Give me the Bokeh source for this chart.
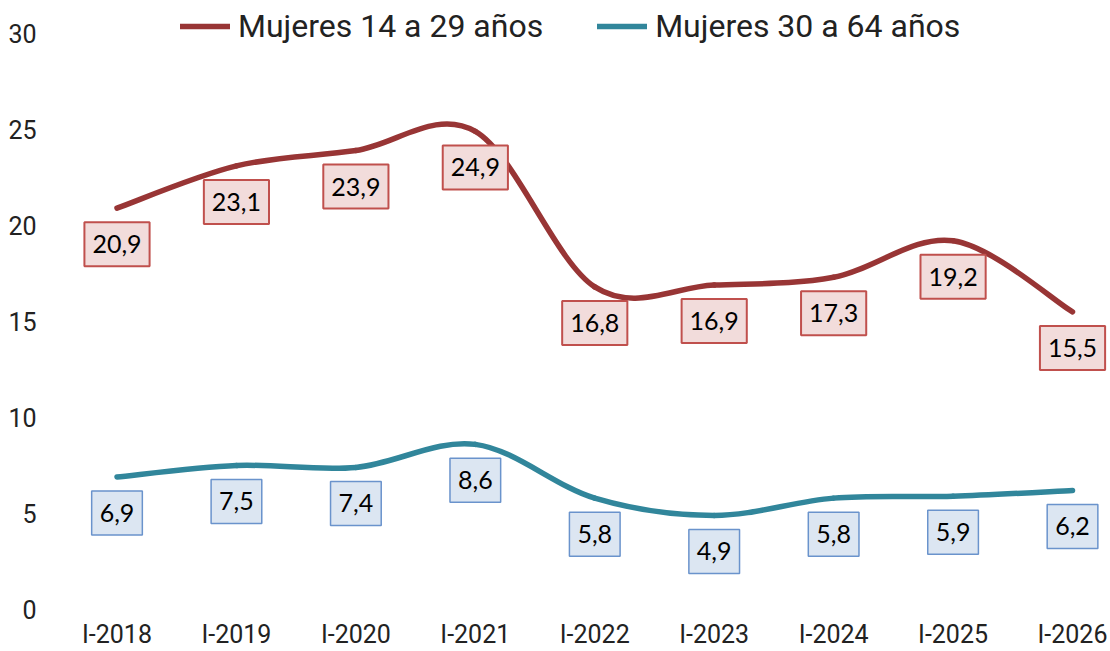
from bokeh.plotting import figure
from bokeh.models import (ColumnDataSource, Range1d, FixedTicker,
                          Legend, LegendItem)
from bokeh.core.properties import value
from bokeh.embed import file_html
from bokeh.resources import INLINE

# ---------------- data ----------------
categories = ["I-2018", "I-2019", "I-2020", "I-2021", "I-2022",
              "I-2023", "I-2024", "I-2025", "I-2026"]
mujeres_14_29 = [20.9, 23.1, 23.9, 24.9, 16.8, 16.9, 17.3, 19.2, 15.5]
mujeres_30_64 = [6.9, 7.5, 7.4, 8.6, 5.8, 4.9, 5.8, 5.9, 6.2]
series_names = ["Mujeres 14 a 29 años", "Mujeres 30 a 64 años"]
y_ticks = [0, 5, 10, 15, 20, 25, 30]

RED = "#983535"
TEAL = "#31869B"
TXT = "#222222"


def fmt(v):
    return f"{v:.1f}".replace(".", ",")


def smooth_segments(ys):
    """Bezier segments through the data points (Excel-style smoothing)."""
    n = len(ys)
    xs = list(range(n))
    d = dict(x0=[], y0=[], x1=[], y1=[], cx0=[], cy0=[], cx1=[], cy1=[])
    for i in range(n - 1):
        a = max(i - 1, 0)
        b = min(i + 2, n - 1)
        d["x0"].append(xs[i]); d["y0"].append(ys[i])
        d["x1"].append(xs[i + 1]); d["y1"].append(ys[i + 1])
        d["cx0"].append(xs[i] + (xs[i + 1] - xs[a]) / 6)
        d["cy0"].append(ys[i] + (ys[i + 1] - ys[a]) / 6)
        d["cx1"].append(xs[i + 1] - (xs[b] - xs[i]) / 6)
        d["cy1"].append(ys[i + 1] - (ys[b] - ys[i]) / 6)
    return ColumnDataSource(d)


idx = list(range(len(categories)))

p = figure(width=1110, height=651,
           x_range=Range1d(-0.5568, 8.318), y_range=Range1d(-0.104, 31.716),
           output_backend="svg", toolbar_location=None,
           min_border_left=50, min_border_right=0,
           min_border_top=0, min_border_bottom=39)
p.outline_line_color = None
p.xgrid.visible = False
p.ygrid.visible = False
p.background_fill_color = "white"
p.border_fill_color = "white"

# axes
p.xaxis.ticker = FixedTicker(ticks=idx)
p.xaxis.major_label_overrides = {i: c for i, c in zip(idx, categories)}
p.yaxis.ticker = FixedTicker(ticks=y_ticks)
for ax, standoff in ((p.xaxis, 8), (p.yaxis, 14)):
    ax.axis_line_color = None
    ax.major_tick_line_color = None
    ax.minor_tick_line_color = None
    ax.major_tick_out = 0
    ax.major_tick_in = 0
    ax.minor_tick_out = 0
    ax.minor_tick_in = 0
    ax.major_label_text_font = "Roboto"
    ax.major_label_text_font_size = "25px"
    ax.major_label_text_color = TXT
    ax.major_label_standoff = standoff

# lines
r1 = p.bezier(x0="x0", y0="y0", x1="x1", y1="y1", cx0="cx0", cy0="cy0",
              cx1="cx1", cy1="cy1", source=smooth_segments(mujeres_14_29),
              line_color=RED, line_width=5.5, line_cap="round")
r2 = p.bezier(x0="x0", y0="y0", x1="x1", y1="y1", cx0="cx0", cy0="cy0",
              cx1="cx1", cy1="cy1", source=smooth_segments(mujeres_30_64),
              line_color=TEAL, line_width=5.5, line_cap="round")

# data labels
for ys, fill, border, bw in ((mujeres_14_29, "#F2DCDB", "#C0504D", 2),
                             (mujeres_30_64, "#DCE6F2", "#6A93CC", 1.5)):
    src = ColumnDataSource(dict(x=idx, y=ys, t=[fmt(v) for v in ys]))
    p.text(x="x", y="y", text="t", source=src, y_offset=36,
           text_align="center", text_baseline="middle",
           text_font=value("Lato"), text_font_size=value("25px"),
           text_color="#000000",
           background_fill_color=fill, border_line_color=border,
           border_line_width=bw,
           padding=dict(left=8, right=8, top=13, bottom=13))

# legend
legend = Legend(items=[LegendItem(label=series_names[0], renderers=[r1]),
                       LegendItem(label=series_names[1], renderers=[r2])],
                location=(130, 566), orientation="horizontal",
                glyph_width=50, glyph_height=20, label_standoff=8,
                spacing=54, padding=0, margin=0,
                border_line_color=None, background_fill_alpha=0,
                label_text_font="Roboto", label_text_font_size="32px",
                label_text_color=TXT)
p.add_layout(legend)

open("out.html", "w").write(file_html(p, INLINE))
